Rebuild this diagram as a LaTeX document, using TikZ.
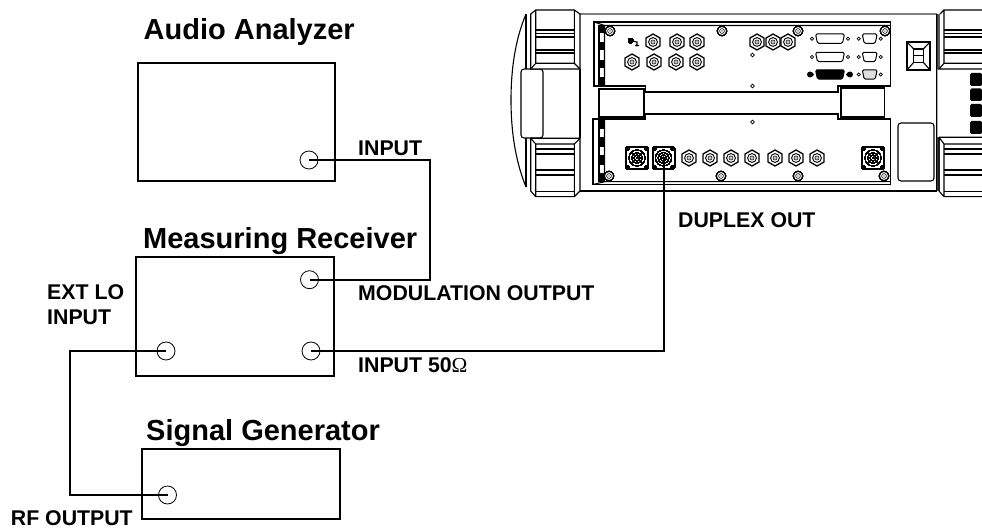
\documentclass[tikz,border=0pt]{standalone}
\usepackage{fontspec}
\setmainfont{Liberation Sans}
\newfontfamily\omegafont{Liberation Serif}
\usetikzlibrary{positioning}

\newcommand{\hexjack}[2]{
  \begin{scope}[shift={(#1,#2)}]
    \draw[line width=1.3pt, fill=white] (0,-8) -- (7,-4) -- (7,4) -- (0,8) -- (-7,4) -- (-7,-4) -- cycle;
    \draw[line width=.9pt] (0,0) circle (4.4);
    \draw[line width=.6pt] (0,0) circle (2);
    \fill (0,0) circle (.7);
  \end{scope}
}
\newcommand{\squarejack}[2]{
  \begin{scope}[shift={(#1,#2)}]
    \draw[line width=1pt, rounded corners=2pt] (-11,-11) rectangle (11,11);
    \foreach \cx in {-9,9} \foreach \cy in {-9,9} \fill (\cx,\cy) circle (1.8);
    \foreach \rad in {8,5.5,3} \draw[line width=.5pt] (0,0) circle (\rad);
    \fill (0,0) circle (1);
  \end{scope}
}
\newcommand{\screw}[2]{
  \begin{scope}[shift={(#1,#2)}]
    \draw[line width=1pt, fill=white] (0,0) circle (4.6);
    \draw[line width=.6pt] (0,0) circle (2.4);
    \fill (0,0) circle (.7);
  \end{scope}
}
\newcommand{\dsub}[4]{
  \begin{scope}[shift={(#1,#2)}]
    \fill[fill=white, draw, line width=.7pt] (-#3-3.5,0) circle (1.6) (#3+3.5,0) circle (1.6);
    \draw[line width=1pt, rounded corners=1.5pt, fill=#4] (-#3,-4.7) -- (#3,-4.7) -- (#3-2,4.7) -- (-#3+2,4.7) -- cycle;
  \end{scope}
}

\begin{document}
\begin{tikzpicture}[
    x=1pt, y=-1pt,
    devbox/.style={draw, line width=2pt, inner sep=0pt},
    port/.style={draw, circle, line width=.8pt, minimum size=18pt, inner sep=0pt},
    wire/.style={line width=2pt},
    boxtitle/.style={inner sep=0pt, anchor=base west, font=\fontsize{29}{31}\selectfont\bfseries},
    tag/.style={inner sep=0pt, anchor=base west, align=left, font=\fontsize{21.3}{24.5}\selectfont\bfseries},
    chassis/.style={line width=1.1pt},
    heavy/.style={line width=1.8pt},
    blackkey/.style={fill=black, rounded corners=1.5pt}
  ]
  \useasboundingbox (0,0) rectangle (982,529);

  \draw[chassis] (526,14) .. controls (515,40) and (511,70) .. (511,100) .. controls (511,130) and (515,160) .. (526,187);
  \draw[chassis] (526,14) -- (526,187);
  \draw[chassis, rounded corners=3pt, fill=white] (521,69) rectangle (543,138);
  \draw[heavy, gray] (580,14) -- (937,14);
  \draw[heavy] (580,191) -- (937,191);
  \draw[chassis] (580,69) -- (580,138);

  \draw[chassis, fill=white] (530.7,14) -- (535.7,10) -- (574.3,10) -- (580,14) -- (580,69) -- (530.7,69) -- cycle;
  \draw[chassis] (535.7,10) -- (535.7,63.3) -- (530.7,69) (574.3,10) -- (574.3,63.3) -- (580,69) (535.7,63.3) -- (574.3,63.3);
  \foreach \ly in {30,37,50,53} \draw[chassis] (535.7,\ly) -- (574.3,\ly);
  \draw[heavy] (535.7,33.5) -- (574.3,33.5);
  \draw[chassis, fill=white] (530.7,138.3) -- (580,138.3) -- (580,191) -- (574.3,196.7) -- (535.7,196.7) -- (530.7,191) -- cycle;
  \draw[chassis] (530.7,138.3) -- (535.7,144) -- (535.7,196.7) (580,138.3) -- (574.3,144) -- (574.3,196.7) (535.7,144) -- (574.3,144);
  \foreach \ly in {149,170,191.5} \draw[chassis] (535.7,\ly) -- (574.3,\ly);
  \foreach \ly in {154,175} \draw[heavy] (535.7,\ly) -- (574.3,\ly);

  \draw[chassis] (594,22) -- (890.7,22) -- (890.7,86) -- (838,86) -- (838,92) -- (645.7,92) -- (645.7,86) -- (594,86) -- cycle;
  \draw[chassis] (593,119) -- (645.7,119) -- (645.7,114) -- (838,114) -- (838,119) -- (890.7,119) -- (890.7,184.5) -- (593,184.5) -- cycle;
  \draw[chassis] (604.5,25.5) -- (890.7,25.5) (604.5,25.5) -- (604.5,86) (594,22) -- (604.5,25.5);
  \draw[chassis] (604.5,119) -- (604.5,181.7) -- (890.7,181.7) (593,184.5) -- (604.5,181.7);
  \draw[chassis] (599,25) -- (599,86) (599,119) -- (599,181.7);
  \foreach \ty/\by in {25/33.3,41.7/50,60/68.3,77.3/86,120/129.3,137.3/146.7,155/165,172.7/181.7}
    \fill (599,\ty) rectangle (604.5,\by);
  \draw[chassis, fill=white] (599,89) rectangle (644,117);
  \draw[chassis, fill=white] (841,88) rectangle (884.5,117);

  \foreach \jx/\jy in {653/42,677/42,697/42,632/62,654/62,676/62,697/62,757/42,773/42,788/42,689/158,710/158,731/158,752/158,775/158,796/158,817/158}
    \hexjack{\jx}{\jy}
  \foreach \jx/\jy in {610/31,722/31,798/31,885/31,609/176,721/176,798/176,884/176}
    \screw{\jx}{\jy}
  \foreach \jx in {637,663.5,873}
    \squarejack{\jx}{158}
  \fill (630.7,40.7) circle (2.6);
  \draw[chassis] (632,41) -- (637,42) -- (637,46.5) (635,45.5) -- (639,45.5);
  \foreach \hy in {55,86,122}
    \draw[line width=.8pt] (752.5,\hy) circle (1.9);

  \dsub{830}{38.7}{14.5}{white}
  \dsub{830}{57}{14.5}{white}
  \dsub{869.7}{38.7}{7.5}{white}
  \dsub{869.7}{57}{7.5}{white}
  \dsub{869.7}{74.5}{7.5}{gray!25}
  \dsub{830}{74.5}{14.5}{black}
  \fill (810,74.5) circle (3) (850,74.5) circle (3);

  \draw[chassis] (907,42) rectangle (930,70);
  \draw[chassis] (913.7,49) rectangle (923.3,62.3) (913.7,55.5) -- (923.3,55.5);
  \draw[chassis] (907,42) -- (913.7,49) (930,42) -- (923.3,49) (907,70) -- (913.7,62.3) (930,70) -- (923.3,62.3);
  \draw[chassis, rounded corners=3pt] (898,123) rectangle (934,181);

  \fill[gray!70!black] (936.7,14) rectangle (940,69);
  \fill[gray!70!black] (936.7,137.3) rectangle (940,191);
  \draw[chassis] (936.7,14) -- (936.7,191) (940,14) -- (944,10) -- (982,10) (944,10) -- (944,63.3) -- (939,69) -- (982,69) (944,63.3) -- (982,63.3);
  \draw[chassis] (939,137.3) -- (982,137.3) (939,137.3) -- (944,144) -- (982,144) (944,144) -- (944,196.7) -- (982,196.7) (944,196.7) -- (939,191) -- (939,137.3);
  \foreach \ly in {30,37,50,53,149,170,191.5} \draw[chassis] (944,\ly) -- (982,\ly);
  \foreach \ly in {33.5,154,175} \draw[heavy] (944,\ly) -- (982,\ly);
  \foreach \ty/\by in {73/86,88.5/101,104/117,121/134}
    \fill[blackkey] (982,\ty) -- (970,\ty) -- (970,\by) -- (982,\by) -- cycle;

  \node[devbox, minimum width=197pt, minimum height=118pt] (audio) at (236,122) {};
  \node[devbox, minimum width=198pt, minimum height=119pt] (receiver) at (235,316.5) {};
  \node[devbox, minimum width=198pt, minimum height=70pt] (generator) at (241,484) {};

  \node[above right=22pt and 7pt of audio.north west, boxtitle] (audiotitle) {Audio Analyzer};
  \node[above right=7pt and 8pt of receiver.north west, boxtitle] (receivertitle) {Measuring Receiver};
  \node[above right=8pt and 5pt of generator.north west, boxtitle] (generatortitle) {Signal Generator};

  \node[port] (audioin) at (309,160) {};
  \node[port] (modout) at (309.5,279.7) {};
  \node[port] (rxin) at (311,351) {};
  \node[port] (loin) at (166,351) {};
  \node[port] (rfout) at (167.5,495) {};
  \coordinate (modturn) at (430,279.7);
  \coordinate (loturn) at (70,420);
  \coordinate (duplex) at (663.5,158);

  \draw[wire] (audioin.center) -| (modturn) -- (modout.center);
  \draw[wire] (duplex) |- (rxin.center);
  \draw[wire] (loin.center) -| (loturn) |- (rfout.center);

  \node[tag] (inputtag) at (358,155.7) {INPUT};
  \node[tag] (duplextag) at (678,228) {DUPLEX OUT};
  \node[tag] (modtag) at (358,300) {MODULATION OUTPUT};
  \node[tag] (rxtag) at (358,372.3) {INPUT 50{\omegafont\mdseries Ω}};
  \node[tag] (lotag) at (47,324) {EXT LO\\INPUT};
  \node[tag] (rftag) at (10.7,525) {RF OUTPUT};
\end{tikzpicture}
\end{document}
